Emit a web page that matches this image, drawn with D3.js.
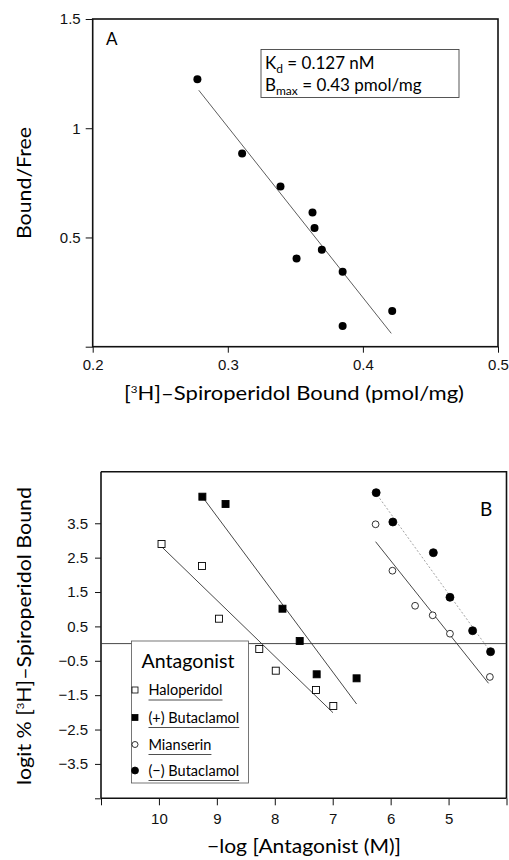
<!DOCTYPE html>
<html>
<head>
<meta charset="utf-8">
<script src="https://cdn.jsdelivr.net/npm/d3@7"></script>
<style>
body { margin: 0; background: #fff; }
svg { display: block; font-family: Lato, "Liberation Sans", sans-serif; }
.axis path, .axis line { stroke: #111; }
.axis text { font-size: 15px; fill: #111; }
</style>
</head>
<body>
<svg width="509" height="860"></svg>
<script>
// panel A: Scatchard data
var boundA = [0.2775, 0.3106, 0.339, 0.3627, 0.3642, 0.3696, 0.3509, 0.385, 0.4217, 0.385];
var ratioA = [1.224, 0.884, 0.733, 0.614, 0.543, 0.444, 0.404, 0.343, 0.163, 0.095];
var fitA = [[0.2785, 1.174], [0.421, 0.061]];
var ticksAx = [0.2, 0.3, 0.4, 0.5];
var ticksAy = [0, 0.5, 1, 1.5];

// panel B: logit plots
var seriesB = ["Haloperidol", "(+) Butaclamol", "Mianserin", "(\u2212) Butaclamol"];
var haloX = [9.955, 9.256, 8.964, 8.268, 7.983, 7.288, 6.99];
var haloY = [2.897, 2.257, 0.724, -0.157, -0.788, -1.35, -1.815];
var plusX = [9.25, 8.85, 7.867, 7.57, 7.277, 6.588];
var plusY = [4.273, 4.06, 1.015, 0.075, -0.893, -1.01];
var mianX = [6.26, 5.969, 5.578, 5.274, 4.976, 4.287];
var mianY = [3.47, 2.12, 1.10, 0.823, 0.288, -0.97];
var minusX = [6.25, 5.962, 5.263, 4.976, 4.585, 4.275];
var minusY = [4.39, 3.537, 2.644, 1.347, 0.375, -0.236];
var fitHalo = [[9.955, 2.82], [6.995, -2.01]];
var fitPlus = [[9.25, 4.27], [6.588, -1.757]];
var fitMian = [[6.26, 2.964], [4.31, -1.155]];
var fitMinus = [[6.19, 4.226], [4.3, -0.187]];
var ticksBx = [11, 10, 9, 8, 7, 6, 5, 4];
var ticksBy = [-4.5, -3.5, -2.5, -1.5, -0.5, 0.5, 1.5, 2.5, 3.5];

var svg = d3.select("svg");

function zip(xs, ys) {
    return xs.map(function(d, i) { return [d, ys[i]]; });
}

// ---------- panel A ----------
var xA = d3.scaleLinear().domain([0.2, 0.5]).range([92.7, 498]);
var yA = d3.scaleLinear().domain([0, 1.5]).range([346.7, 19]);
var gA = svg.append("g");

gA.append("rect")
    .attr("x", xA(0.2)).attr("y", yA(1.5))
    .attr("width", xA(0.5) - xA(0.2)).attr("height", yA(0) - yA(1.5))
    .attr("fill", "none").attr("stroke", "#111").attr("stroke-width", 1.6);

gA.append("g").attr("class", "axis")
    .attr("transform", "translate(" + xA(0.2) + ",0)")
    .call(d3.axisLeft(yA).tickValues(ticksAy).tickSize(7).tickPadding(5)
        .tickFormat(function(d) { return d === 0 ? "" : d; }))
    .call(function(g) { g.select(".domain").remove(); });

gA.append("g").attr("class", "axis")
    .attr("transform", "translate(0," + yA(0) + ")")
    .call(d3.axisBottom(xA).tickValues(ticksAx).tickSize(6).tickPadding(7)
        .tickFormat(d3.format(".1f")))
    .call(function(g) { g.select(".domain").remove(); });

gA.append("path")
    .attr("d", d3.line().x(function(d) { return xA(d[0]); }).y(function(d) { return yA(d[1]); })(fitA))
    .attr("stroke", "#333").attr("stroke-width", 0.8).attr("fill", "none");

gA.selectAll(".ptA").data(zip(boundA, ratioA)).enter().append("circle")
    .attr("cx", function(d) { return xA(d[0]); })
    .attr("cy", function(d) { return yA(d[1]); })
    .attr("r", 4).attr("fill", "#000");

gA.append("text").attr("x", 106).attr("y", 45).attr("font-size", 17).text("A");

// constants box
gA.append("rect").attr("x", 261).attr("y", 49.5).attr("width", 198).attr("height", 48)
    .attr("fill", "#fff").attr("stroke", "#444").attr("stroke-width", 0.9);
var kd = gA.append("text").attr("x", 265).attr("y", 69).attr("font-size", 17);
kd.append("tspan").text("K");
kd.append("tspan").attr("font-size", 12).attr("dy", 4).text("d");
kd.append("tspan").attr("dy", -4).text(" = 0.127 nM");
var bm = gA.append("text").attr("x", 265).attr("y", 91).attr("font-size", 17);
bm.append("tspan").text("B");
bm.append("tspan").attr("font-size", 12).attr("dy", 4).text("max");
bm.append("tspan").attr("dy", -4).text(" = 0.43 pmol/mg");

gA.append("text")
    .attr("transform", "translate(31,183) rotate(-90)")
    .attr("text-anchor", "middle").attr("font-size", 19)
    .attr("textLength", 112).attr("lengthAdjust", "spacingAndGlyphs")
    .text("Bound/Free");

var labA = gA.append("text").attr("x", 124).attr("y", 400).attr("font-size", 19)
    .attr("textLength", 340).attr("lengthAdjust", "spacingAndGlyphs");
labA.append("tspan").text("[");
labA.append("tspan").attr("font-size", 10).attr("dy", -7).text("3");
labA.append("tspan").attr("dy", 7).text("H]\u2013Spiroperidol Bound (pmol/mg)");

// ---------- panel B ----------
var xB = d3.scaleLinear().domain([11, 4]).range([101, 506.5]);
var yB = d3.scaleLinear().domain([-4.5, 5]).range([798.3, 471.7]);
var gB = svg.append("g");

// frame top and right
gB.append("path")
    .attr("d", "M" + xB(11) + "," + yB(5) + "H" + xB(4) + "V" + yB(-4.5))
    .attr("fill", "none").attr("stroke", "#111").attr("stroke-width", 1.6);

gB.append("g").attr("class", "axis")
    .attr("transform", "translate(" + xB(11) + ",0)")
    .call(d3.axisLeft(yB).tickValues(ticksBy).tickSize(6).tickPadding(7)
        .tickFormat(function(d) { return d === -4.5 ? "" : d3.format(".1f")(d).replace("-", "\u2212"); }))
    .call(function(g) { g.select(".domain").attr("d", "M0," + yB(-4.5) + "V" + yB(5)).attr("stroke-width", 1.6); });

gB.append("g").attr("class", "axis")
    .attr("transform", "translate(0," + yB(-4.5) + ")")
    .call(d3.axisBottom(xB).tickValues(ticksBx).tickSize(7).tickPadding(8)
        .tickFormat(function(d) { return (d === 11 || d === 4) ? "" : d; }))
    .call(function(g) { g.select(".domain").attr("d", "M" + xB(11) + ",0H" + xB(4)).attr("stroke-width", 1.6); });

// zero line
gB.append("line")
    .attr("x1", xB(11)).attr("x2", xB(4)).attr("y1", yB(0)).attr("y2", yB(0))
    .attr("stroke", "#333").attr("stroke-width", 0.9);

var lineB = d3.line().x(function(d) { return xB(d[0]); }).y(function(d) { return yB(d[1]); });
[fitHalo, fitPlus, fitMian].forEach(function(f) {
    gB.append("path").attr("d", lineB(f)).attr("stroke", "#333").attr("stroke-width", 0.9).attr("fill", "none");
});
gB.append("path").attr("d", lineB(fitMinus)).attr("stroke", "#999").attr("stroke-width", 0.9)
    .attr("stroke-dasharray", "2,2").attr("fill", "none");

function squares(data, filled) {
    gB.selectAll(null).data(data).enter().append("rect")
        .attr("x", function(d) { return xB(d[0]) - 3.5; })
        .attr("y", function(d) { return yB(d[1]) - 3.5; })
        .attr("width", 7).attr("height", 7)
        .attr("fill", filled ? "#000" : "#fff").attr("stroke", "#000").attr("stroke-width", 0.9);
}
function circles(data, filled) {
    gB.selectAll(null).data(data).enter().append("circle")
        .attr("cx", function(d) { return xB(d[0]); })
        .attr("cy", function(d) { return yB(d[1]); })
        .attr("r", filled ? 4 : 3.4)
        .attr("fill", filled ? "#000" : "#fff").attr("stroke", "#000").attr("stroke-width", 0.8);
}
squares(zip(haloX, haloY), false);
squares(zip(plusX, plusY), true);
circles(zip(mianX, mianY), false);
circles(zip(minusX, minusY), true);

gB.append("text").attr("x", 480).attr("y", 516).attr("font-size", 19).text("B");

// legend
var leg = gB.append("g");
leg.append("rect").attr("x", 131.5).attr("y", 641).attr("width", 117).attr("height", 142)
    .attr("fill", "#fff").attr("stroke", "#555").attr("stroke-width", 0.8);
leg.append("text").attr("x", 188).attr("y", 668).attr("text-anchor", "middle")
    .attr("font-size", 20).attr("textLength", 93).attr("lengthAdjust", "spacingAndGlyphs")
    .text("Antagonist");
var legY = [695, 722.5, 749.5, 775.5];
seriesB.forEach(function(name, i) {
    var cy = legY[i] - 5;
    if (i < 2) {
        leg.append("rect").attr("x", 132).attr("y", cy - 3).attr("width", 6).attr("height", 6)
            .attr("fill", i === 1 ? "#000" : "#fff").attr("stroke", "#000").attr("stroke-width", 0.8);
    } else {
        leg.append("circle").attr("cx", 135).attr("cy", cy).attr("r", i === 3 ? 3.5 : 3)
            .attr("fill", i === 3 ? "#000" : "#fff").attr("stroke", "#000").attr("stroke-width", 0.8);
    }
    var t = leg.append("text").attr("x", 148.5).attr("y", legY[i]).attr("font-size", 14.5).text(name);
    var w = t.node().getComputedTextLength();
    leg.append("line").attr("x1", 148.5).attr("x2", 148.5 + w)
        .attr("y1", legY[i] + 5).attr("y2", legY[i] + 5)
        .attr("stroke", "#222").attr("stroke-width", 0.8);
});

gB.append("text")
    .attr("transform", "translate(31,636) rotate(-90)")
    .attr("text-anchor", "middle").attr("font-size", 19)
    .attr("textLength", 298).attr("lengthAdjust", "spacingAndGlyphs")
    .call(function(t) {
        t.append("tspan").text("logit % [");
        t.append("tspan").attr("font-size", 10).attr("dy", -7).text("3");
        t.append("tspan").attr("dy", 7).text("H]\u2013Spiroperidol Bound");
    });

gB.append("text").attr("x", 304).attr("y", 853).attr("text-anchor", "middle")
    .attr("font-size", 20).attr("textLength", 194).attr("lengthAdjust", "spacingAndGlyphs")
    .text("\u2212log [Antagonist (M)]");
</script>
</body>
</html>
